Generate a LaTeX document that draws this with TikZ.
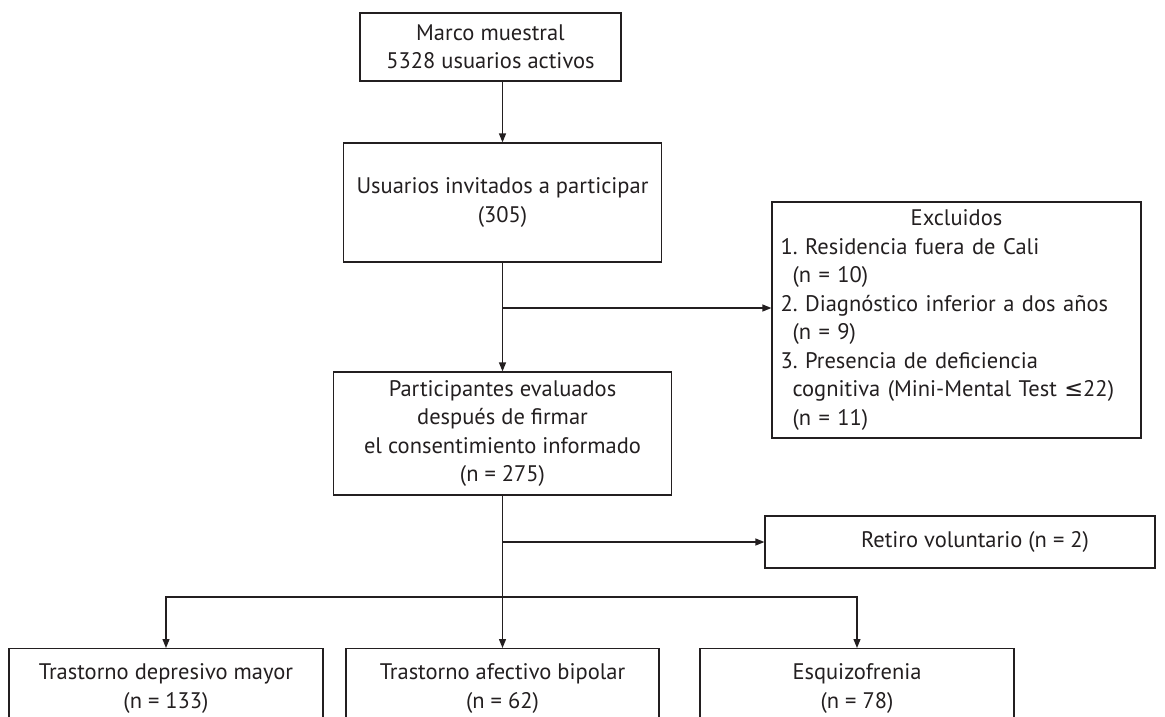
\documentclass[tikz,border=0pt]{standalone}
\usepackage{fontspec}
\setmainfont{PT Sans}
\newfontfamily\symfont{DejaVu Sans}
\usetikzlibrary{arrows.meta,positioning}
\definecolor{inkgray}{RGB}{35,31,32}
\frenchspacing

\begin{document}
\begin{tikzpicture}[
  x=1pt, y=-1pt,
  font=\fontsize{22.5}{28.5}\selectfont,
  box/.style={draw=inkgray, line width=1.2pt, align=center, inner sep=0pt, text=inkgray},
  arrow/.style={-{Triangle[length=9pt,width=7pt]}, line width=1.2pt, draw=inkgray}
]
\useasboundingbox (0,0) rectangle (1165,716);

\node[box, minimum width=261pt, minimum height=68pt] (marco) at (490.5,47) {Marco muestral\\ 5328 usuarios activos};
\node[box, minimum width=318pt, minimum height=119pt] (invit) at (502.5,202.5) {Usuarios invitados a participar\\ (305)};
\node[box, minimum width=338pt, minimum height=123pt] (partic) at (502.5,433.5) {Participantes evaluados\\ después de firmar\\ el consentimiento informado\\ (n = 275)};
\node[box, minimum width=369pt, minimum height=236pt, text width=352pt, align=left] (excl) at (956.5,320) {\makebox[352pt]{Excluidos}\\
1. Residencia fuera de Cali\\
\hspace*{12pt}(n = 10)\\
2. Diagnóstico inferior a dos años\\
\hspace*{12pt}(n = 9)\\
3. Presencia de deficiencia\\
\hspace*{12pt}\mbox{cognitiva (Mini-Mental Test {\symfont ≤}22)}\\
\hspace*{12pt}(n = 11)};
\node[box, minimum width=390pt, minimum height=52pt] (retiro) at (960,542) {\hspace*{30pt}Retiro voluntario (n = 2)};

% grupos diagnosticos
\node[box, anchor=north, minimum width=314pt, minimum height=80pt] (tdm) at (166,648) {Trastorno depresivo mayor\\ (n = 133)};
\node[box, anchor=north, minimum width=313pt, minimum height=80pt] (tab) at (502.5,648) {Trastorno afectivo bipolar\\ (n = 62)};
\node[box, anchor=north, minimum width=314pt, minimum height=80pt] (esq) at (857,648) {Esquizofrenia\\ (n = 78)};

\coordinate (exbr) at (502.5,308);
\coordinate (rtbr) at (502.5,542);
\coordinate (split) at (502.5,597);

\draw[arrow] (invit.north |- marco.south) -- (invit.north);
\draw[arrow] (invit) -- (partic);
\draw[arrow] (exbr) -- (exbr -| excl.west);
\draw[arrow] (partic) -- (tab.north);
\draw[arrow] (rtbr) -- (retiro.west);
\draw[arrow] (split) -| (tdm.north);
\draw[arrow] (split) -| (esq.north);
\end{tikzpicture}
\end{document}
